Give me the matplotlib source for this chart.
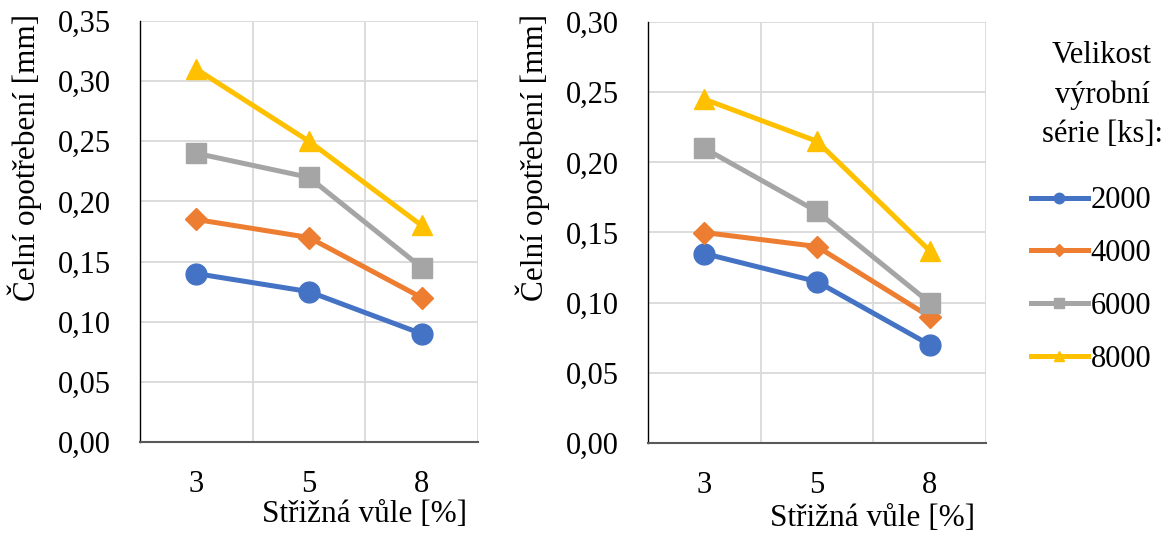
import numpy as np
import matplotlib
matplotlib.use('Agg')
import matplotlib.pyplot as plt

plt.rcParams['font.family'] = ['Liberation Serif', 'DejaVu Serif']

# data
vule = ['3', '5', '8']
serie = ['2000', '4000', '6000', '8000']
levy = {
    '2000': [0.14, 0.125, 0.09],
    '4000': [0.185, 0.17, 0.12],
    '6000': [0.24, 0.22, 0.145],
    '8000': [0.31, 0.25, 0.18],
}
pravy = {
    '2000': [0.135, 0.115, 0.07],
    '4000': [0.15, 0.14, 0.09],
    '6000': [0.21, 0.165, 0.10],
    '8000': [0.245, 0.215, 0.137],
}

barvy = ['#4472C4', '#ED7D31', '#A5A5A5', '#FFC000']
znacky = ['o', 'D', 's', '^']
velikosti = [15, 11.5, 14, 15]

W, H = 1174, 538
fig = plt.figure(figsize=(W / 100, H / 100), dpi=100)
ax1 = fig.add_axes([140 / W, 1 - 442 / H, 338 / W, 421 / H])
ax2 = fig.add_axes([648 / W, 1 - 443 / H, 338 / W, 421 / H])


def kresli(ax, data, ymax):
    x = np.arange(len(vule))
    for s, c, m, ms in zip(serie, barvy, znacky, velikosti):
        ax.plot(x, data[s], color=c, marker=m, markersize=ms, linewidth=3.6,
                label=s, zorder=3, clip_on=False)
    ax.set_xlim(-0.5, len(vule) - 0.5)
    ax.set_ylim(0, ymax)
    yt = np.arange(0, ymax + 0.001, 0.05)
    ax.set_yticks(yt)
    ax.set_yticklabels([f'{v:.2f}'.replace('.', ',') for v in yt])
    ax.set_xticks(x)
    ax.set_xticklabels(vule)
    ax.set_xticks([0.5, 1.5, 2.5], minor=True)
    ax.grid(True, axis='y', which='major', color='#d9d9d9', linewidth=1.3)
    ax.grid(True, axis='x', which='minor', color='#d9d9d9', linewidth=1.3)
    ax.grid(False, axis='x', which='major')
    ax.tick_params(axis='both', which='both', length=0, labelsize=22)
    ax.tick_params(axis='x', pad=20)
    ax.tick_params(axis='y', pad=21)
    for sp in ['top', 'right']:
        ax.spines[sp].set_visible(False)
    ax.spines['bottom'].set_color('#595959')
    ax.spines['bottom'].set_linewidth(1.5)
    ax.spines['left'].set_color('black')
    ax.spines['left'].set_linewidth(1.0)
    ax.set_axisbelow(True)


kresli(ax1, levy, 0.35)
kresli(ax2, pravy, 0.30)

fig.text(25 / W, 1 - 157 / H, 'Čelní opotřebení [mm]', rotation=90,
         ha='center', va='center', fontsize=22.5)
fig.text(533 / W, 1 - 157 / H, 'Čelní opotřebení [mm]', rotation=90,
         ha='center', va='center', fontsize=22.5)
fig.text(365 / W, 1 - 515 / H, 'Střižná vůle [%]', ha='center', va='center', fontsize=22.5)
fig.text(873 / W, 1 - 518 / H, 'Střižná vůle [%]', ha='center', va='center', fontsize=22.5)

fig.text(1102 / W, 1 - 95 / H, 'Velikost\nvýrobní\nsérie [ks]:', ha='center',
         va='center', fontsize=22, linespacing=1.45)

handles, labels = ax1.get_legend_handles_labels()
fig.legend(handles, labels, loc='center left', bbox_to_anchor=(1031 / W, 1 - 280 / H),
           frameon=False, fontsize=22, markerscale=0.5, handlelength=1.85,
           handletextpad=0.1, labelspacing=0.78, borderaxespad=0, borderpad=0)

fig.savefig('out.png', dpi=100)
